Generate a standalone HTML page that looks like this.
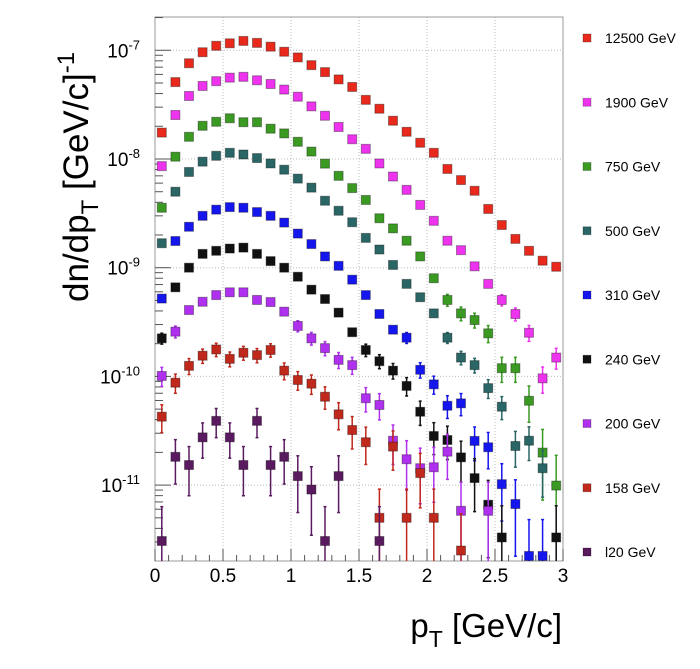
<!DOCTYPE html>
<html><head><meta charset="utf-8"><style>
html,body{margin:0;padding:0;background:#fff;}
svg{display:block;font-family:"Liberation Sans",Arial,sans-serif;}
</style></head><body>
<svg id="chart" width="700" height="669" viewBox="0 0 700 669">
<g id="grid"></g>
<g id="axes"></g>
<g id="series"></g>
<g id="legend"></g>
<text transform="translate(88,302) rotate(-90)" font-size="35" fill="#000">dn/dp<tspan font-size="24" dy="10">T</tspan><tspan dy="-10"> [GeV/c]</tspan><tspan font-size="24" dy="-14">-1</tspan></text>
<text x="562" y="637" text-anchor="end" font-size="33" fill="#000">p<tspan font-size="23" dy="10">T</tspan><tspan dy="-10"> [GeV/c]</tspan></text>
</svg>
<script>
const xCenters=[0.05,0.15,0.25,0.35,0.45,0.55,0.65,0.75,0.85,0.95,1.05,1.15,1.25,1.35,1.45,1.55,1.65,1.75,1.85,1.95,2.05,2.15,2.25,2.35,2.45,2.55,2.65,2.75,2.85,2.95];
const seriesNames=["12500 GeV","1900 GeV","750 GeV","500 GeV","310 GeV","240 GeV","200 GeV","158 GeV","l20 GeV"];
const seriesColors=["#e8291c","#ee33ee","#3a9a22","#2a6666","#1515ee","#111111","#b030f0","#c0281c","#5a1a60"];
const s12500=[1.75e-8,5.1e-8,7.6e-8,9.6e-8,1.10e-7,1.16e-7,1.22e-7,1.17e-7,1.08e-7,9.7e-8,8.6e-8,7.3e-8,6.3e-8,5.4e-8,4.6e-8,3.5e-8,2.9e-8,2.25e-8,1.78e-8,1.41e-8,1.14e-8,8.1e-9,6.4e-9,5.1e-9,3.47e-9,2.47e-9,1.84e-9,1.43e-9,1.16e-9,1.02e-9];
const s1900=[8.6e-9,2.54e-8,3.8e-8,4.7e-8,5.2e-8,5.6e-8,5.7e-8,5.3e-8,4.9e-8,4.35e-8,3.74e-8,3.05e-8,2.5e-8,1.97e-8,1.52e-8,1.24e-8,9.1e-9,6.9e-9,5.2e-9,3.78e-9,2.7e-9,1.77e-9,1.45e-9,1.03e-9,7.1e-10,5.05e-10,3.75e-10,2.52e-10,9.6e-11,1.49e-10];
const s750=[3.56e-9,1.05e-8,1.6e-8,2.02e-8,2.2e-8,2.37e-8,2.18e-8,2.18e-8,1.9e-8,1.72e-8,1.44e-8,1.17e-8,9.06e-9,7.0e-9,5.4e-9,4.2e-9,2.85e-9,2.3e-9,1.77e-9,1.27e-9,8.0e-10,5.05e-10,3.8e-10,3.3e-10,2.49e-10,1.19e-10,1.19e-10,5.97e-11,1.99e-11,9.9e-12];
const s500=[1.68e-9,5.0e-9,7.6e-9,9.45e-9,1.07e-8,1.14e-8,1.10e-8,1.02e-8,9.1e-9,7.97e-9,6.6e-9,5.45e-9,4.13e-9,3.34e-9,2.62e-9,1.88e-9,1.47e-9,1.06e-9,7.1e-10,5.35e-10,3.8e-10,2.27e-10,1.49e-10,1.27e-10,7.8e-11,5.26e-11,2.29e-11,2.56e-11,1.43e-11,null];
const s310=[5.2e-10,1.76e-9,2.38e-9,3.0e-9,3.42e-9,3.61e-9,3.56e-9,3.25e-9,3.0e-9,2.6e-9,2.06e-9,1.65e-9,1.27e-9,1.04e-9,7.76e-10,5.6e-10,3.75e-10,2.69e-10,2.27e-10,1.15e-10,8.45e-11,5.37e-11,5.65e-11,2.55e-11,2.23e-11,1.02e-11,6.7e-12,2.23e-12,2.23e-12,null];
const s240=[2.24e-10,6.6e-10,1.0e-9,1.34e-9,1.43e-9,1.5e-9,1.53e-9,1.34e-9,1.15e-9,1.0e-9,8.26e-10,6.28e-10,5.15e-10,3.86e-10,2.55e-10,1.75e-10,1.38e-10,1.13e-10,8.17e-11,4.73e-11,2.83e-11,2.6e-11,1.8e-11,1.16e-11,6.6e-12,3.3e-12,null,null,null,3.3e-12];
const s200=[1.01e-10,2.58e-10,4.08e-10,4.86e-10,5.6e-10,5.94e-10,5.94e-10,5.05e-10,4.83e-10,3.94e-10,2.91e-10,2.24e-10,1.82e-10,1.42e-10,1.27e-10,6.3e-11,5.46e-11,2.56e-11,1.73e-11,1.43e-11,1.46e-11,2.03e-11,5.8e-12,null,5.8e-12,null,null,null,null,null];
const s158=[4.26e-11,8.75e-11,1.25e-10,1.55e-10,1.77e-10,1.45e-10,1.65e-10,1.57e-10,1.75e-10,1.13e-10,9.27e-11,8.57e-11,6.5e-11,4.48e-11,3.21e-11,2.48e-11,5.0e-12,2.26e-11,5.0e-12,1.29e-11,5.0e-12,null,2.5e-12,null,null,null,null,null,null,null];
const s120=[3.06e-12,1.82e-11,1.53e-11,2.75e-11,3.9e-11,2.75e-11,1.53e-11,3.9e-11,1.53e-11,1.82e-11,1.21e-11,9.1e-12,3.06e-12,1.21e-11,null,null,3.06e-12,null,null,null,null,null,null,null,null,null,null,null,null,null];
const errScale=[1.0e-11,7e-12,8e-12,3e-12,3e-12,3e-12,4e-12,3.5e-12,3.5e-12];
const xTicks=[0,0.5,1,1.5,2,2.5,3];
const xTickLabels=["0","0.5","1","1.5","2","2.5","3"];
const yDecades=[-11,-10,-9,-8,-7];
const allSeries=[s12500,s1900,s750,s500,s310,s240,s200,s158,s120];

const L=155,R=563,T=17,B=561;
const xMin=0,xMax=3;
const LOGY0=-7, PY0=50.3, PPD=108.7;
function xs(v){return L+(v-xMin)/(xMax-xMin)*(R-L);}
function ys(v){return PY0-(Math.log10(v)-LOGY0)*PPD;}
const NS="http://www.w3.org/2000/svg";
function mk(tag,attrs,parent){const e=document.createElementNS(NS,tag);for(const k in attrs)e.setAttribute(k,attrs[k]);parent.appendChild(e);return e;}
const grid=document.getElementById('grid'),axes=document.getElementById('axes'),ser=document.getElementById('series'),leg=document.getElementById('legend');

mk('rect',{x:L,y:T,width:R-L,height:B-T,fill:'none',stroke:'#999','stroke-width':1},axes);
xTicks.forEach((t,i)=>{
  const x=xs(t);
  if(i>0&&i<xTicks.length-1){const g=mk('line',{x1:x,x2:x,y1:T,y2:B,stroke:'#bbb','stroke-dasharray':'1,2'},grid);
  
  }
  mk('line',{x1:x,x2:x,y1:B,y2:B-12,stroke:'#555'},axes);
  const tx=mk('text',{x:x,y:582,'text-anchor':'middle','font-size':19,fill:'#000'},axes);
  tx.textContent=xTickLabels[i];
  
  
});
for(let k=1;k<30;k++){const x=xs(k*0.1);mk('line',{x1:x,x2:x,y1:B,y2:B-6,stroke:'#555'},axes);}
yDecades.forEach(d=>{
  const y=ys(Math.pow(10,d));
  const g=mk('line',{x1:L,x2:R,y1:y,y2:y,stroke:'#bbb','stroke-dasharray':'1,2'},grid);
  
  
  mk('line',{x1:L,x2:L+16,y1:y,y2:y,stroke:'#555'},axes);
  const tx=mk('text',{x:140,y:y+7,'text-anchor':'end','font-size':19,fill:'#000'},axes);
  tx.innerHTML='10<tspan font-size="13" dy="-8">'+d+'</tspan>';
  
  
});
for(let d=-12;d<=-7;d++){for(let m=2;m<=9;m++){const v=m*Math.pow(10,d);const y=ys(v);if(y>T&&y<B)mk('line',{x1:L,x2:L+8,y1:y,y2:y,stroke:'#555'},axes);}}

allSeries.forEach((arr,si)=>{
  const col=seriesColors[si];
  const g=mk('g',{},ser);
  
  
  arr.forEach((v,i)=>{
    if(v==null)return;
    const x=xs(xCenters[i]),y=ys(v);
    const e=Math.sqrt(v*errScale[si]);
    const yt=ys(v+e);const yb=(v-e>0)?Math.min(ys(v-e),B):B;
    if(y-yt>5){
      mk('line',{x1:x,x2:x,y1:yt,y2:yb,stroke:col,'stroke-width':1.5},g);
      mk('line',{x1:x-1.5,x2:x+1.5,y1:yt,y2:yt,stroke:col,'stroke-width':1.5},g);
      if(yb<B)mk('line',{x1:x-1.5,x2:x+1.5,y1:yb,y2:yb,stroke:col,'stroke-width':1.5},g);
    }
    const r=mk('rect',{x:x-4.5,y:y-4.5,width:9,height:9,fill:col,stroke:'rgba(0,0,0,0.35)','stroke-width':1},g);
    
    
  });
});

seriesNames.forEach((n,i)=>{
  const y=38+i*64.25;
  const g=mk('g',{},leg);
  
  
  mk('rect',{x:583,y:y-4,width:8,height:8,fill:seriesColors[i],stroke:'rgba(0,0,0,0.3)','stroke-width':0.8},g);
  const t=mk('text',{x:605,y:y+5,'font-size':14,fill:'#000'},g);
  t.textContent=n;
});
</script>
</body></html>
